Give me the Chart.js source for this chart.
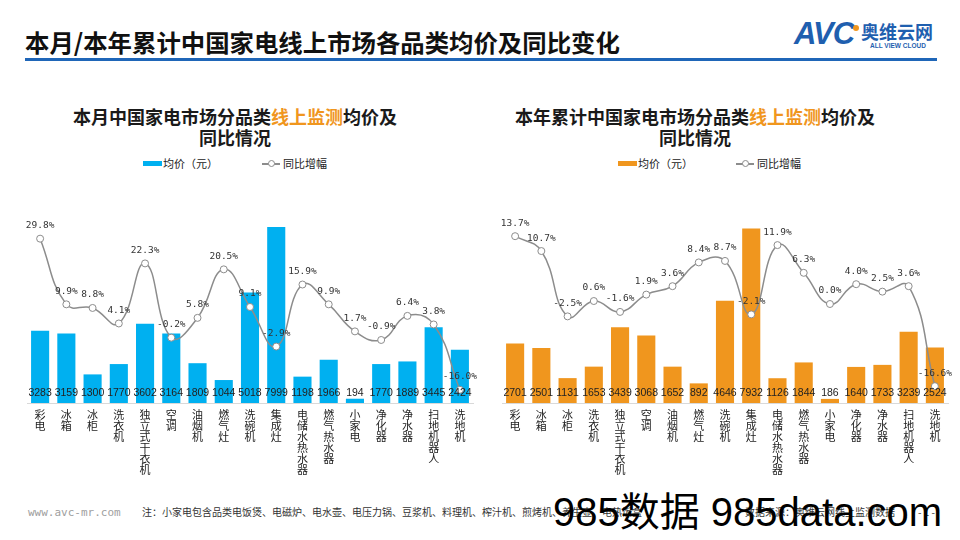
<!DOCTYPE html>
<html>
<head>
<meta charset="utf-8">
<script src="https://cdn.jsdelivr.net/npm/chart.js@4/dist/chart.umd.min.js"></script>
<style>
  html, body { margin:0; padding:0; background:#fff; }
  #page { position:relative; width:960px; height:540px; overflow:hidden; font-family:"Noto Sans CJK SC","Noto Sans",sans-serif; color:#1a1a1a; }
  .abs { position:absolute; white-space:nowrap; }
  .ctitle { font-size:18px; font-weight:bold; line-height:21px; text-align:center; width:500px; }
  .orange { color:#F0961E; }
  .leg { font-size:11px; line-height:14px; color:#222; }
  canvas { position:absolute; }
</style>
</head>
<body>
<div id="page">
  <div class="abs" style="left:25px;top:27px;font-size:24.4px;font-weight:bold;line-height:30px;color:#111;">本月/本年累计中国家电线上市场各品类均价及同比变化</div>
  <div class="abs" style="left:25px;top:58px;width:912px;height:3px;background:#1F66B8;"></div>
  <!-- logo -->
  <div class="abs" style="left:794px;top:17px;font-family:'Liberation Sans',Arial,sans-serif;font-size:31px;font-weight:bold;font-style:italic;color:#1F5FAF;letter-spacing:-1px;line-height:34px;">AVC</div>
  <div class="abs" style="left:853px;top:25px;width:6px;height:6px;border-radius:3px;background:#F0961E;"></div>
  <div class="abs" style="left:861px;top:21px;font-size:18px;font-weight:bold;color:#1F5FAF;line-height:20px;">奥维云网</div>
  <div class="abs" style="left:870px;top:42px;font-family:'Liberation Sans',Arial,sans-serif;font-size:6.5px;font-weight:bold;color:#1F5FAF;line-height:8px;">ALL VIEW CLOUD</div>

  <!-- left chart title + legend -->
  <div class="abs ctitle" style="left:-15px;top:106px;">本月中国家电市场分品类<span class="orange">线上监测</span>均价及<br>同比情况</div>
  <div class="abs" style="left:143px;top:161px;width:19px;height:5px;background:#00B0F0;"></div>
  <div class="abs leg" style="left:163px;top:156px;">均价（元）</div>
  <div class="abs" style="left:262px;top:163px;width:18px;height:1.5px;background:#8C8C8C;"></div>
  <div class="abs" style="left:268px;top:160px;width:5px;height:5px;border-radius:4px;border:1px solid #8C8C8C;background:#fff;"></div>
  <div class="abs leg" style="left:283px;top:156px;">同比增幅</div>

  <!-- right chart title + legend -->
  <div class="abs ctitle" style="left:445px;top:106px;">本年累计中国家电市场分品类<span class="orange">线上监测</span>均价及<br>同比情况</div>
  <div class="abs" style="left:618px;top:161px;width:19px;height:5px;background:#F0961E;"></div>
  <div class="abs leg" style="left:638px;top:156px;">均价（元）</div>
  <div class="abs" style="left:736px;top:163px;width:18px;height:1.5px;background:#8C8C8C;"></div>
  <div class="abs" style="left:742px;top:160px;width:5px;height:5px;border-radius:4px;border:1px solid #8C8C8C;background:#fff;"></div>
  <div class="abs leg" style="left:757px;top:156px;">同比增幅</div>

  <canvas id="c1" width="480" height="290" style="left:0;top:195px;"></canvas>
  <canvas id="c2" width="480" height="290" style="left:475px;top:195px;"></canvas>

  <!-- footer -->
  <div class="abs" style="left:28px;top:506px;font-family:'DejaVu Sans Mono',monospace;font-size:11px;color:#a0a0a0;line-height:14px;">www.avc-mr.com</div>
  <div class="abs" style="left:142px;top:505px;font-size:10px;color:#333;line-height:14px;">注：小家电包含品类电饭煲、电磁炉、电水壶、电压力锅、豆浆机、料理机、榨汁机、煎烤机、养生壶、电热饭盒</div>
  <div class="abs" style="left:745px;top:505px;font-size:10px;color:#333;line-height:14px;">数据来源：奥维云网线上监测数据</div>
  <div class="abs" style="left:918px;top:505px;font-size:10px;color:#333;line-height:14px;">- 1 -</div>
  <div class="abs" style="left:553px;top:489px;font-family:'Liberation Sans','Noto Sans CJK SC',sans-serif;font-size:40px;color:#000;line-height:46px;">985数据 985data.com</div>
</div>
<script>
const categories = ['彩电','冰箱','冰柜','洗衣机','独立式干衣机','空调','油烟机','燃气灶','洗碗机','集成灶','电储水热水器','燃气热水器','小家电','净化器','净水器','扫地机器人','洗地机'];
const monthPrice = [3283,3159,1300,1770,3602,3164,1809,1044,5018,7999,1198,1966,194,1770,1889,3445,2424];
const monthYoY   = [29.8,9.9,8.8,4.1,22.3,-0.2,5.8,20.5,9.1,-2.9,15.9,9.9,1.7,-0.9,6.4,3.8,-16.0];
const yearPrice  = [2701,2501,1131,1653,3439,3068,1652,892,4646,7932,1126,1844,186,1640,1733,3239,2524];
const yearYoY    = [13.7,10.7,-2.5,0.6,-1.6,1.9,3.6,8.4,8.7,-2.1,11.9,6.3,0.0,4.0,2.5,3.6,-16.6];

const labelPlugin = {
  id: 'valueLabels',
  afterDatasetsDraw(chart) {
    const ctx = chart.ctx;
    const base = chart.scales.x.top;
    ctx.save();
    const barMeta = chart.getDatasetMeta(0);
    const barData = chart.data.datasets[0].data;
    ctx.font = '10.5px "Liberation Sans", Arial, sans-serif';
    ctx.fillStyle = '#222';
    ctx.textAlign = 'center';
    ctx.textBaseline = 'middle';
    barMeta.data.forEach((el, i) => { ctx.fillText(String(barData[i]), el.x, base - 10); });
    const lineMeta = chart.getDatasetMeta(1);
    const lineData = chart.data.datasets[1].data;
    ctx.font = '9.5px "DejaVu Sans Mono", monospace';
    ctx.fillStyle = '#333';
    lineMeta.data.forEach((el, i) => { ctx.fillText(lineData[i].toFixed(1) + '%', el.x, el.y - 13); });
    ctx.restore();
  }
};

function makeChart(id, prices, yoy, color, y1min, y1max, padLeft, padRight) {
  return new Chart(document.getElementById(id), {
    data: {
      labels: categories.map(s => s.split('')),
      datasets: [
        { type: 'bar', data: prices, backgroundColor: color, borderWidth: 0, yAxisID: 'y',
          categoryPercentage: 1.0, barPercentage: 0.69, order: 2 },
        { type: 'line', data: yoy, yAxisID: 'y1', borderColor: '#8C8C8C', borderWidth: 1.5,
          tension: 0.45, pointRadius: 3.5, pointBackgroundColor: '#fff', pointBorderColor: '#8C8C8C',
          pointBorderWidth: 1, order: 1 }
      ]
    },
    options: {
      responsive: false, animation: false, devicePixelRatio: 1,
      layout: { padding: { left: padLeft, right: padRight, top: 10, bottom: 0 } },
      plugins: { legend: { display: false }, tooltip: { enabled: false } },
      scales: {
        x: {
          grid: { display: false, drawTicks: false },
          border: { display: true, color: '#D9D9D9', width: 1 },
          ticks: { autoSkip: false, maxRotation: 0, minRotation: 0, padding: 6, color: '#222',
                   font: { size: 11, family: '"Noto Sans CJK SC", sans-serif', lineHeight: 1.0 } },
          afterFit: s => { s.height = 82; }
        },
        y: { display: false, min: 0, max: 9000 },
        y1: { display: false, min: y1min, max: y1max, position: 'right' }
      }
    },
    plugins: [labelPlugin]
  });
}
makeChart('c1', monthPrice, monthYoY, '#00B0F0', -20, 40, 27, 7);
makeChart('c2', yearPrice, yearYoY, '#F0961E', -20, 20, 27, 7);
</script>
</body>
</html>
